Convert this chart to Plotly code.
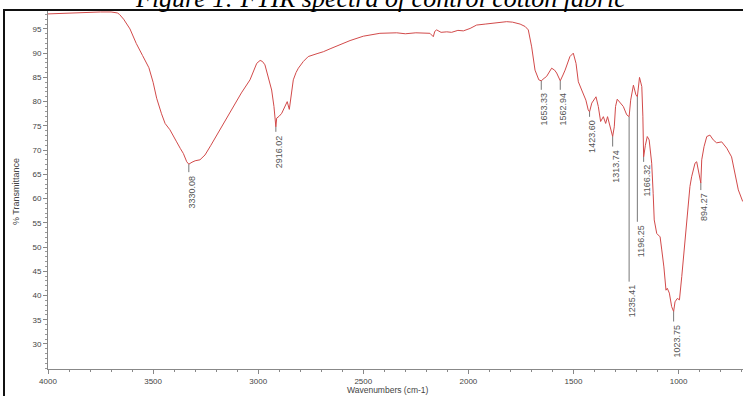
import numpy as np
import plotly.graph_objects as go

# ---------------- data ----------------
wavenumber = [
    4000, 3950, 3900, 3850, 3800, 3750, 3700, 3670, 3660, 3640, 3610, 3580, 3550, 3520,
    3500, 3483, 3460, 3443, 3420, 3400, 3388, 3370, 3356, 3340, 3330.08, 3315, 3300,
    3277, 3253, 3225, 3197, 3160, 3118, 3080, 3039, 3007, 2991, 2980, 2968, 2952, 2936,
    2925, 2920, 2916.02, 2912, 2900, 2888, 2868, 2862, 2852, 2845, 2833, 2820, 2809,
    2785, 2762, 2720, 2690, 2658, 2620, 2563, 2500, 2421, 2341, 2300, 2250, 2183, 2167,
    2160, 2151, 2130, 2103, 2080, 2050, 2024, 1992, 1961, 1920, 1865, 1818, 1790, 1754,
    1730, 1715, 1699, 1683, 1665, 1653.33, 1640, 1628, 1604, 1590, 1580, 1562.94, 1550,
    1540, 1517, 1501, 1488, 1477, 1461, 1441, 1430, 1423.60, 1413, 1393, 1382, 1371,
    1358, 1347, 1338, 1326, 1313.74, 1306, 1300, 1292, 1279, 1263, 1247, 1235.41, 1228,
    1215, 1203, 1196.25, 1186, 1175, 1170, 1166.32, 1158, 1149, 1140, 1128, 1121, 1116,
    1104, 1088, 1080, 1070, 1060, 1054, 1044, 1033, 1023.75, 1017, 1006, 996, 985, 974,
    965, 954, 946, 938, 922, 914, 906, 894.27, 890, 879, 866, 851, 835, 819, 795, 771,
    748, 732, 716, 695,
]
transmittance = [
    98.1, 98.2, 98.2, 98.3, 98.4, 98.5, 98.5, 98.3, 98.0, 97.0, 95.0, 92.0, 89.5, 87.0,
    84.0, 80.7, 77.5, 75.5, 74.2, 72.8, 71.7, 70.3, 69.3, 67.6, 67.1, 67.5, 67.8,
    68.0, 69.0, 71.0, 73.1, 76.0, 79.0, 81.8, 84.5, 87.9, 88.5, 88.3, 87.6, 85.2, 82.4,
    79.0, 76.5, 74.8, 76.6, 77.0, 77.6, 79.3, 80.0, 78.4, 81.0, 84.5, 86.0, 86.9,
    88.3, 89.3, 89.9, 90.3, 90.9, 91.6, 92.6, 93.5, 94.1, 94.2, 94.0, 94.2, 94.1, 93.4,
    94.5, 94.8, 94.3, 94.4, 94.3, 94.7, 94.6, 95.1, 95.8, 96.0, 96.3, 96.5, 96.4, 96.0,
    95.5, 94.8, 91.3, 86.5, 84.5, 84.3, 84.8, 85.2, 86.9, 86.5, 85.9, 84.3, 85.5,
    86.5, 89.3, 90.0, 87.9, 84.1, 82.4, 80.3, 78.3, 77.9, 79.7, 81.0, 79.0, 75.9,
    76.9, 75.5, 76.9, 74.8, 72.8, 74.8, 79.0, 80.5, 79.8, 79.0, 77.3, 76.9, 80.3,
    83.4, 81.4, 81.0, 85.0, 83.1, 77.0, 68.6, 71.0, 72.8, 72.1, 67.3, 61.1, 55.6,
    52.8, 52.1, 49.4, 45.9, 41.1, 41.5, 40.5, 37.7, 36.7, 38.7, 39.4, 39.1, 43.9, 49.4,
    54.2, 59.7, 62.5, 64.5, 67.3, 67.6, 65.9, 63.2, 68.0, 70.7, 72.8, 73.1, 72.1, 71.5, 71.7, 70.4,
    68.6, 65.2, 61.8, 59.4,
]

peak_wn = [3330.08, 2916.02, 1653.33, 1562.94, 1423.60, 1313.74, 1235.41, 1196.25,
           1166.32, 1023.75, 894.27]
peak_labels = ["3330.08", "2916.02", "1653.33", "1562.94", "1423.60", "1313.74",
               "1235.41", "1196.25", "1166.32", "1023.75", "894.27"]

x_ticks = [4000, 3500, 3000, 2500, 2000, 1500, 1000]
y_ticks = [30, 35, 40, 45, 50, 55, 60, 65, 70, 75, 80, 85, 90, 95]

title_text = "Figure 1: FTIR spectra of control cotton fabric"
x_title = "Wavenumbers (cm-1)"
y_title = "% Transmittance"

# ---------------- layout / style ----------------
label_drop_px = [8, 5, 9, 9, 5, 10, 165, 125, 5, 10, 7]

W, H = 743, 396
ML, MR, MT, MB = 48, 0, 11, 27
PW = W - ML - MR
PH = H - MT - MB

# order ascending for interpolation
wn_arr = np.array(wavenumber)[::-1]
tr_arr = np.array(transmittance)[::-1]
peak_T = [float(np.interp(w, wn_arr, tr_arr)) for w in peak_wn]

fig = go.Figure()
fig.add_trace(go.Scatter(
    x=wavenumber, y=transmittance, mode="lines",
    line=dict(color="#d24a4a", width=1), hoverinfo="skip", showlegend=False,
))

label_font = dict(family="Liberation Sans", size=9, color="#555555")
shapes = []
annotations = []
for w, t, lab, drop in zip(peak_wn, peak_T, peak_labels, label_drop_px):
    shapes.append(dict(
        type="line", xref="x", yref="y", ysizemode="pixel", yanchor=t,
        x0=w, x1=w, y0=0, y1=-drop, line=dict(color="#555555", width=0.8),
    ))
    annotations.append(dict(
        x=w, y=t, xref="x", yref="y", text=lab, showarrow=False,
        textangle=-90, xanchor="center", yanchor="top",
        yshift=-drop - 1, xshift=3, font=label_font,
    ))

# outer frame (only left/top visible in the crop)
shapes.append(dict(
    type="rect", xref="paper", yref="paper",
    x0=(4 - ML) / PW, x1=1.2, y0=-0.3, y1=1 + 1.0 / PH,
    line=dict(color="#111111", width=2), fillcolor="rgba(0,0,0,0)", layer="above",
))

annotations.append(dict(
    xref="paper", yref="paper", x=(380 - ML) / PW, y=1, xanchor="center",
    yanchor="bottom", yshift=-4, showarrow=False,
    text="<i>" + title_text + "</i>",
    font=dict(family="Liberation Serif", size=26, color="#000000"),
))
annotations.append(dict(
    xref="paper", yref="paper", x=(388 - ML) / PW, y=0, xanchor="center",
    yanchor="middle", yshift=-21, showarrow=False, text=x_title,
    font=dict(family="Liberation Sans", size=8.5, color="#444444"),
))
annotations.append(dict(
    xref="paper", yref="paper", x=(16 - ML) / PW, y=(H - MB - 192) / PH,
    xanchor="center", yanchor="middle", showarrow=False, text=y_title,
    textangle=-90, font=dict(family="Liberation Sans", size=9, color="#444444"),
))

axis_font = dict(family="Liberation Sans", size=8, color="#444444")
fig.update_layout(
    width=W, height=H,
    margin=dict(l=ML, r=MR, t=MT, b=MB, pad=0),
    paper_bgcolor="white", plot_bgcolor="white",
    xaxis=dict(
        range=[4000, 4000 - PW / 0.2102], tickvals=x_ticks, ticks="outside",
        ticklen=4, tickwidth=1, tickcolor="#888888", showline=True,
        linecolor="#888888", linewidth=1, showgrid=False, zeroline=False,
        tickfont=axis_font,
        minor=dict(dtick=100, tick0=0, ticks="outside", ticklen=2,
                   tickcolor="#888888", showgrid=False),
    ),
    yaxis=dict(
        range=[24.84, 98.7], tickvals=y_ticks, ticks="outside", ticklen=4,
        tickwidth=1, tickcolor="#888888", showline=True, linecolor="#888888",
        linewidth=1, showgrid=False, zeroline=False, tickfont=axis_font,
        minor=dict(dtick=1, tick0=0, ticks="outside", ticklen=2,
                   tickcolor="#999999", showgrid=False),
    ),
    shapes=shapes,
    annotations=annotations,
    showlegend=False,
)

fig.write_html("out.html")
